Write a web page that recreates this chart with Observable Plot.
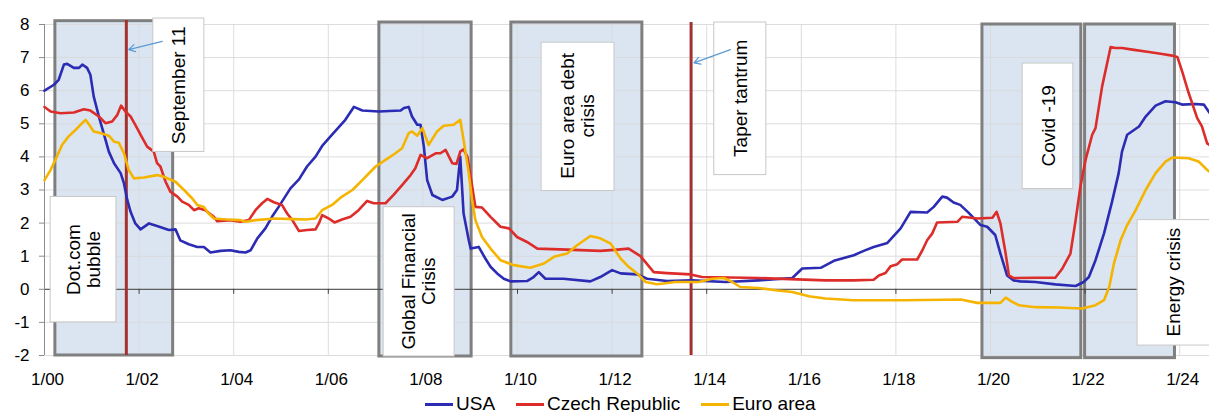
<!DOCTYPE html>
<html>
<head>
<meta charset="utf-8">
<script src="https://cdn.jsdelivr.net/npm/d3@7"></script>
<script src="https://cdn.jsdelivr.net/npm/@observablehq/plot@0.6"></script>
<style>
  html, body { margin: 0; padding: 0; background: #fff; }
  body { width: 1209px; height: 412px; overflow: hidden; font-family: "Liberation Sans", Arial, sans-serif; position: relative; }
  #legend { position: absolute; left: 425px; top: 394px; height: 20px; display: flex; align-items: center; font-size: 19px; color: #000; }
  .item { display: flex; align-items: center; margin-right: 21px; }
  .sw { width: 28px; height: 3px; margin-right: 3px; }
</style>
</head>
<body>
<div id="chart"></div>
<div id="legend"></div>
<script>
// Series: [decimal year, rate %]
const usa = [[2000.00,6.0],[2000.20,6.18],[2000.30,6.33],[2000.41,6.79],[2000.48,6.81],[2000.62,6.69],[2000.73,6.69],[2000.80,6.79],[2000.90,6.69],[2000.97,6.48],[2001.04,5.83],[2001.15,5.22],[2001.25,4.72],[2001.36,4.16],[2001.47,3.81],[2001.61,3.51],[2001.68,3.2],[2001.75,2.70],[2001.82,2.34],[2001.92,1.99],[2002.03,1.81],[2002.21,1.99],[2002.38,1.91],[2002.63,1.79],[2002.77,1.81],[2002.87,1.48],[2003.05,1.36],[2003.23,1.28],[2003.37,1.28],[2003.51,1.11],[2003.72,1.16],[2003.93,1.18],[2004.11,1.13],[2004.25,1.11],[2004.36,1.18],[2004.50,1.54],[2004.67,1.84],[2004.81,2.19],[2004.95,2.49],[2005.20,3.05],[2005.38,3.32],[2005.55,3.71],[2005.73,4.01],[2005.87,4.33],[2006.08,4.67],[2006.36,5.12],[2006.54,5.51],[2006.72,5.40],[2007.07,5.37],[2007.53,5.40],[2007.60,5.48],[2007.70,5.51],[2007.77,5.22],[2007.88,4.97],[2007.95,4.97],[2008.02,4.31],[2008.09,3.3],[2008.20,2.85],[2008.41,2.70],[2008.62,2.80],[2008.72,3.0],[2008.79,4.0],[2008.86,2.29],[2008.97,1.48],[2009.01,1.23],[2009.18,1.28],[2009.32,0.93],[2009.43,0.68],[2009.57,0.48],[2009.71,0.32],[2009.85,0.24],[2010.20,0.25],[2010.34,0.37],[2010.45,0.52],[2010.59,0.32],[2010.97,0.32],[2011.54,0.24],[2011.75,0.37],[2012.00,0.58],[2012.18,0.48],[2012.53,0.45],[2012.74,0.32],[2013.16,0.25],[2013.69,0.27],[2014.40,0.22],[2015.10,0.27],[2015.81,0.34],[2016.02,0.63],[2016.41,0.65],[2016.69,0.86],[2017.11,1.03],[2017.32,1.16],[2017.53,1.28],[2017.82,1.40],[2018.10,1.84],[2018.31,2.34],[2018.66,2.32],[2018.80,2.49],[2018.98,2.80],[2019.08,2.77],[2019.22,2.62],[2019.36,2.55],[2019.54,2.31],[2019.79,1.94],[2019.93,1.89],[2020.10,1.64],[2020.21,1.08],[2020.35,0.42],[2020.49,0.27],[2020.63,0.24],[2020.95,0.22],[2021.37,0.15],[2021.80,0.10],[2021.97,0.22],[2022.08,0.37],[2022.22,0.88],[2022.40,1.69],[2022.57,2.65],[2022.71,3.51],[2022.78,4.16],[2022.89,4.67],[2023.14,4.92],[2023.28,5.22],[2023.49,5.55],[2023.70,5.68],[2023.91,5.65],[2024.05,5.58],[2024.33,5.60],[2024.51,5.58],[2024.63,5.33]];

const czech = [[2000.00,5.51],[2000.13,5.37],[2000.34,5.32],[2000.62,5.34],[2000.83,5.44],[2000.97,5.40],[2001.15,5.22],[2001.29,5.02],[2001.43,5.07],[2001.54,5.27],[2001.62,5.55],[2001.71,5.37],[2001.82,5.22],[2001.92,4.97],[2002.03,4.67],[2002.17,4.31],[2002.31,4.16],[2002.38,3.81],[2002.45,3.71],[2002.56,3.25],[2002.66,2.95],[2002.81,2.80],[2002.91,2.65],[2003.05,2.55],[2003.16,2.39],[2003.26,2.45],[2003.40,2.39],[2003.58,2.19],[2003.65,2.06],[2003.93,2.09],[2004.14,2.04],[2004.32,2.09],[2004.46,2.39],[2004.60,2.60],[2004.71,2.73],[2004.85,2.63],[2005.02,2.55],[2005.13,2.29],[2005.24,2.09],[2005.38,1.76],[2005.55,1.79],[2005.73,1.81],[2005.80,1.99],[2005.87,2.24],[2006.01,2.14],[2006.13,2.02],[2006.29,2.11],[2006.47,2.19],[2006.64,2.39],[2006.82,2.67],[2006.96,2.60],[2007.21,2.60],[2007.38,2.85],[2007.56,3.15],[2007.74,3.45],[2007.84,3.66],[2007.95,4.06],[2008.09,3.96],[2008.27,4.11],[2008.37,4.11],[2008.48,4.21],[2008.62,3.81],[2008.71,3.79],[2008.79,4.16],[2008.86,4.23],[2008.94,4.01],[2009.01,3.40],[2009.11,2.49],[2009.25,2.47],[2009.43,2.19],[2009.64,1.89],[2009.82,1.84],[2009.99,1.58],[2010.20,1.43],[2010.42,1.23],[2011.05,1.20],[2011.75,1.16],[2012.11,1.20],[2012.35,1.23],[2012.60,1.00],[2012.88,0.52],[2013.16,0.49],[2013.66,0.45],[2013.90,0.37],[2015.10,0.34],[2016.51,0.27],[2017.11,0.27],[2017.53,0.29],[2017.64,0.42],[2017.78,0.49],[2017.89,0.70],[2018.03,0.76],[2018.13,0.90],[2018.45,0.90],[2018.56,1.18],[2018.66,1.48],[2018.77,1.69],[2018.87,2.02],[2019.30,2.04],[2019.40,2.19],[2019.72,2.14],[2020.04,2.16],[2020.13,2.34],[2020.21,1.99],[2020.32,1.08],[2020.39,0.42],[2020.49,0.34],[2020.95,0.35],[2021.37,0.35],[2021.52,0.63],[2021.69,1.08],[2021.80,2.09],[2021.90,3.10],[2022.01,3.91],[2022.15,4.67],[2022.22,4.87],[2022.36,6.13],[2022.54,7.32],[2022.64,7.29],[2022.78,7.29],[2023.00,7.24],[2023.35,7.17],[2023.63,7.11],[2023.84,7.06],[2023.95,7.02],[2024.05,6.59],[2024.19,5.93],[2024.37,5.17],[2024.47,4.92],[2024.58,4.41],[2024.63,4.36]];

const euro = [[2000.00,3.3],[2000.13,3.61],[2000.23,3.91],[2000.37,4.36],[2000.51,4.62],[2000.66,4.82],[2000.76,4.97],[2000.87,5.12],[2000.97,4.92],[2001.04,4.77],[2001.18,4.72],[2001.36,4.64],[2001.47,4.46],[2001.57,4.43],[2001.68,4.11],[2001.78,3.61],[2001.89,3.35],[2002.10,3.38],[2002.38,3.45],[2002.52,3.40],[2002.77,3.25],[2002.95,3.0],[2003.12,2.75],[2003.23,2.55],[2003.37,2.49],[2003.47,2.29],[2003.58,2.14],[2003.86,2.11],[2004.14,2.09],[2004.25,2.04],[2004.46,2.09],[2004.88,2.14],[2005.24,2.12],[2005.52,2.11],[2005.73,2.14],[2005.87,2.39],[2006.08,2.55],[2006.29,2.80],[2006.51,3.0],[2006.72,3.30],[2007.00,3.71],[2007.21,3.91],[2007.42,4.11],[2007.56,4.26],[2007.70,4.72],[2007.77,4.77],[2007.88,4.64],[2007.99,4.87],[2008.12,4.36],[2008.30,4.77],[2008.44,4.94],[2008.65,4.97],[2008.79,5.12],[2008.86,4.51],[2008.97,3.51],[2009.04,2.70],[2009.11,2.09],[2009.25,1.58],[2009.43,1.23],[2009.64,0.88],[2009.92,0.73],[2010.27,0.65],[2010.56,0.78],[2010.77,0.98],[2011.05,1.08],[2011.26,1.33],[2011.54,1.61],[2011.75,1.54],[2011.97,1.38],[2012.18,0.93],[2012.35,0.68],[2012.53,0.48],[2012.71,0.22],[2012.95,0.15],[2013.34,0.22],[2013.83,0.22],[2014.12,0.32],[2014.36,0.34],[2014.54,0.22],[2014.71,0.07],[2015.10,0.04],[2015.45,-0.03],[2015.81,-0.08],[2016.16,-0.21],[2016.51,-0.28],[2017.11,-0.33],[2018.17,-0.33],[2019.37,-0.31],[2019.72,-0.41],[2020.21,-0.41],[2020.32,-0.25],[2020.46,-0.38],[2020.60,-0.48],[2020.95,-0.54],[2021.44,-0.55],[2021.94,-0.58],[2022.22,-0.48],[2022.40,-0.33],[2022.51,0.07],[2022.61,0.78],[2022.75,1.48],[2022.89,1.94],[2023.07,2.39],[2023.28,3.0],[2023.49,3.51],[2023.70,3.86],[2023.84,3.98],[2024.19,3.96],[2024.40,3.86],[2024.58,3.61],[2024.63,3.55]];

const seriesNames = ["USA", "Czech Republic", "Euro area"];
const seriesColors = ["#2b2bb3", "#dc2d2a", "#f5b400"];

const xTicks = [2000, 2002, 2004, 2006, 2008, 2010, 2012, 2014, 2016, 2018, 2020, 2022, 2024];
const xTickLabels = ["1/00","1/02","1/04","1/06","1/08","1/10","1/12","1/14","1/16","1/18","1/20","1/22","1/24"];
const yTicks = [-2, -1, 0, 1, 2, 3, 4, 5, 6, 7, 8];

// Crisis periods (shaded)
const periods = [
  {x1: 2000.23, x2: 2002.72, y1: -2.0, y2: 8.1},
  {x1: 2007.08, x2: 2009.03, y1: -2.03, y2: 8.06},
  {x1: 2009.87, x2: 2012.64, y1: -2.03, y2: 8.06},
  {x1: 2019.83, x2: 2021.92, y1: -2.08, y2: 8.0},
  {x1: 2022.00, x2: 2023.90, y1: -2.08, y2: 8.0}
];
// Single events (vertical lines)
const events = [
  {x: 2001.73, y1: -2, y2: 8.12},
  {x: 2013.67, y1: -2, y2: 8.06}
];
// Label boxes
const labels = [
  {text: "September 11", x1: 2002.30, x2: 2003.38, y1: 4.15, y2: 8.18, tx: 2002.84, ty: 6.16},
  {text: "Dot.com\nbubble", x1: 2000.13, x2: 2001.52, y1: -1.0, y2: 2.79, tx: 2000.82, ty: 0.9},
  {text: "Global Financial\nCrisis", x1: 2007.17, x2: 2008.67, y1: -2.03, y2: 2.48, tx: 2007.91, ty: 0.24},
  {text: "Euro area debt\ncrisis", x1: 2010.51, x2: 2012.05, y1: 2.97, y2: 7.45, tx: 2011.27, ty: 5.24},
  {text: "Taper tantrum", x1: 2014.16, x2: 2015.26, y1: 3.45, y2: 8.06, tx: 2014.71, ty: 5.77},
  {text: "Covid -19", x1: 2020.68, x2: 2021.75, y1: 3.03, y2: 6.82, tx: 2021.23, ty: 4.94},
  {text: "Energy crisis", x1: 2023.11, x2: 2024.80, y1: -1.70, y2: 2.09, tx: 2023.87, ty: 0.22}
];
const arrows = [
  {x1: 2002.49, y1: 7.49, x2: 2001.78, y2: 7.24},
  {x1: 2014.50, y1: 7.24, x2: 2013.73, y2: 6.84}
];

const rows = [];
[usa, czech, euro].forEach((s, i) => s.forEach(([t, v]) => rows.push({t, v, s: seriesNames[i]})));

const font = "'Liberation Sans', Arial, sans-serif";

const chart = Plot.plot({
  width: 1209,
  height: 392,
  marginLeft: 44,
  marginRight: 0,
  marginTop: 24,
  marginBottom: 37,
  style: {fontFamily: font, fontSize: "17px", color: "#000", background: "#fff"},
  x: {domain: [2000, 2024.63]},
  y: {domain: [-2, 8]},
  color: {domain: seriesNames, range: seriesColors},
  marks: [
    Plot.rect(periods, {x1: "x1", x2: "x2", y1: "y1", y2: "y2", fill: "#dbe5f1"}),
    Plot.ruleY(yTicks, {stroke: "#d9d9d9", strokeWidth: 1, strokeOpacity: 0.9}),
    Plot.ruleX(xTicks.slice(1), {y1: -2, y2: 8, stroke: "#d9d9d9", strokeWidth: 1, strokeOpacity: 0.9}),
    Plot.rect(periods, {x1: "x1", x2: "x2", y1: "y1", y2: "y2", fill: "none", stroke: "#7f7f7f", strokeWidth: 3}),
    Plot.ruleY([0], {stroke: "#404040", strokeWidth: 1}),
    Plot.ruleX(xTicks.slice(1), {y1: 0, y2: -0.15, stroke: "#404040", strokeWidth: 1}),
    Plot.ruleX([2000], {y1: -2, y2: 8, stroke: "#8c8c8c", strokeWidth: 1}),
    Plot.axisY({ticks: yTicks, tickSize: 5, tickPadding: 10, stroke: "#8c8c8c", fontSize: 17, tickFormat: d => d < 0 ? "-" + Math.abs(d) : String(d), fill: "#000"}),
    Plot.axisX({ticks: xTicks, tickSize: 0, tickPadding: 17, dx: 3, fontSize: 17, fill: "#000",
      tickFormat: d => xTickLabels[xTicks.indexOf(d)]}),
    Plot.ruleX(events, {x: "x", y1: "y1", y2: "y2", stroke: "#a3322e", strokeWidth: 3}),
    Plot.line(rows, {x: "t", y: "v", z: "s", stroke: "s", strokeWidth: 2.6, curve: "linear"}),
    Plot.rect(labels, {x1: "x1", x2: "x2", y1: "y1", y2: "y2", fill: "#fff", stroke: "#c8c8c8", strokeWidth: 1}),
    Plot.text(labels, {x: "tx", y: "ty", text: "text", rotate: -90, fontSize: 19, lineHeight: 1.08, fill: "#000", textAnchor: "middle", lineAnchor: "middle"}),
    Plot.arrow(arrows, {x1: "x1", y1: "y1", x2: "x2", y2: "y2", stroke: "#5b9bd5", strokeWidth: 1.2, headLength: 9, bend: 0})
  ]
});
document.getElementById("chart").appendChild(chart);

const legend = document.getElementById("legend");
seriesNames.forEach((n, i) => {
  const it = document.createElement("div");
  it.className = "item";
  const sw = document.createElement("div");
  sw.className = "sw";
  sw.style.background = seriesColors[i];
  const tx = document.createElement("span");
  tx.textContent = n;
  it.appendChild(sw); it.appendChild(tx);
  legend.appendChild(it);
});
</script>
</body>
</html>
